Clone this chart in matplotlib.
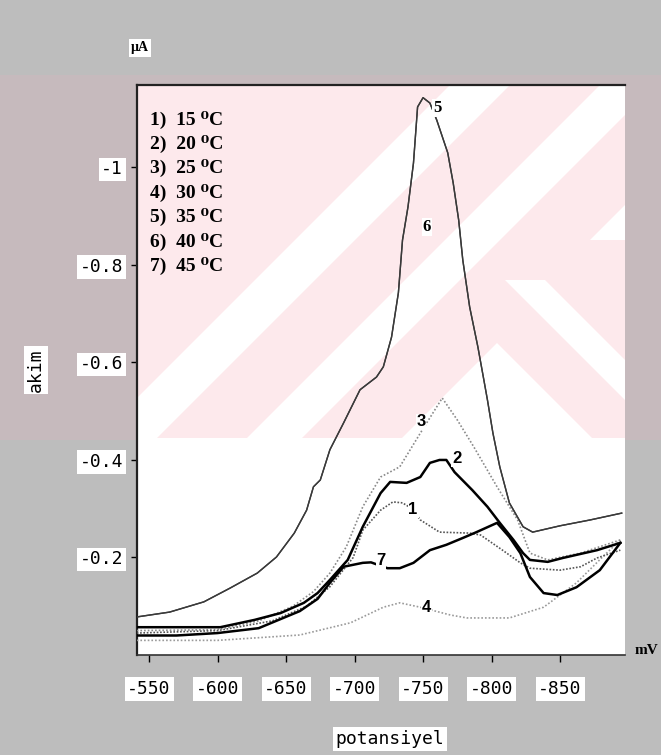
import matplotlib
matplotlib.use("Agg")
import matplotlib.pyplot as plt
from matplotlib.patches import Polygon, Rectangle

plt.rcParams["axes.unicode_minus"] = False

# ---------------- data (potential in mV, current in uA) ----------------
pot_1 = [-541, -600, -640, -665, -682, -699, -706, -719, -728, -735, -742, -748,
         -762, -784, -792, -808, -821, -828, -850, -865, -877, -894]
cur_1 = [-0.045, -0.050, -0.070, -0.100, -0.140, -0.200, -0.256, -0.297, -0.314, -0.312,
         -0.300, -0.277, -0.252, -0.250, -0.246, -0.215, -0.189, -0.178, -0.174, -0.181,
         -0.199, -0.215]

pot_2 = [-541, -602, -627, -646, -663, -673, -682, -695, -706, -719, -726, -738, -748,
         -755, -762, -767, -773, -786, -797, -806, -816, -823, -828, -841, -852, -877, -894]
cur_2 = [-0.057, -0.057, -0.072, -0.086, -0.107, -0.127, -0.154, -0.195, -0.263, -0.332,
         -0.355, -0.353, -0.365, -0.394, -0.400, -0.400, -0.375, -0.338, -0.304, -0.271,
         -0.236, -0.209, -0.195, -0.191, -0.199, -0.215, -0.230]

pot_3 = [-541, -600, -630, -655, -670, -682, -694, -706, -719, -733, -748, -764, -775,
         -787, -804, -819, -828, -841, -865, -894]
cur_3 = [-0.050, -0.052, -0.070, -0.100, -0.130, -0.168, -0.222, -0.304, -0.365, -0.386,
         -0.455, -0.527, -0.482, -0.427, -0.345, -0.277, -0.209, -0.195, -0.209, -0.236]

pot_4 = [-541, -600, -660, -697, -721, -733, -748, -770, -782, -813, -838, -862, -881, -894]
cur_4 = [-0.030, -0.030, -0.041, -0.066, -0.098, -0.107, -0.098, -0.082, -0.076, -0.076,
         -0.098, -0.148, -0.201, -0.236]

# curves 5 and 6 coincide on the original chart (both labels sit on the big peak)
pot_56 = [-541, -565, -590, -609, -629, -643, -656, -665, -670, -675, -682, -692, -704,
          -716, -721, -727, -732, -735, -739, -743, -746, -750, -755, -760, -768, -772,
          -776, -779, -784, -790, -794, -797, -801, -806, -813, -823, -830, -850, -872, -895]
cur_56 = [-0.078, -0.088, -0.109, -0.137, -0.168, -0.201, -0.250, -0.297, -0.345, -0.359,
          -0.421, -0.476, -0.544, -0.570, -0.591, -0.652, -0.743, -0.851, -0.919, -1.009,
          -1.124, -1.143, -1.132, -1.097, -1.030, -0.968, -0.892, -0.810, -0.714, -0.632,
          -0.570, -0.523, -0.455, -0.386, -0.312, -0.263, -0.252, -0.265, -0.277, -0.291]

pot_7 = [-541, -570, -600, -630, -660, -673, -682, -692, -706, -712, -724, -733, -743,
         -755, -767, -779, -789, -804, -813, -821, -828, -838, -848, -862, -879, -894]
cur_7 = [-0.040, -0.040, -0.045, -0.055, -0.090, -0.115, -0.148, -0.181, -0.189, -0.190,
         -0.178, -0.178, -0.189, -0.215, -0.226, -0.240, -0.252, -0.271, -0.242, -0.209,
         -0.160, -0.127, -0.123, -0.139, -0.174, -0.230]

legend_lines = ["1)  15 \u2070C", "2)  20 \u2070C", "3)  25 \u2070C", "4)  30 \u2070C",
                "5)  35 \u2070C", "6)  40 \u2070C", "7)  45 \u2070C"]
curve_tags = ["1", "2", "3", "4", "5", "6", "7"]
tag_pot = [-742.7, -774.5, -748.5, -752.2, -760.5, -752.9, -719.3]
tag_cur = [-0.299, -0.402, -0.478, -0.098, -1.122, -0.878, -0.193]

x_ticks = [-550, -600, -650, -700, -750, -800, -850]
y_ticks = [-1.0, -0.8, -0.6, -0.4, -0.2]
y_tick_labels = ["-1", "-0.8", "-0.6", "-0.4", "-0.2"]

# ---------------- figure ----------------
W, H = 661, 755
fig = plt.figure(figsize=(W / 100, H / 100), dpi=100)
fig.patch.set_facecolor("#bdbdbd")


def fp(x, y):
    return (x / W, 1 - y / H)


# pink watermark tint over the grey margin
fig.patches.append(Rectangle(fp(0, 440), 1, (440 - 75) / H, transform=fig.transFigure,
                             facecolor="#c6babd", edgecolor="none", zorder=0))

ax = fig.add_axes([137 / W, 1 - 655 / H, 488 / W, 570 / H])
ax.set_zorder(2)
ax.set_facecolor("white")

# watermark inside plot area
pink = "#fde9ec"
ax.add_patch(Polygon([fp(0, 85), fp(W, 85), fp(W, 438), fp(0, 438)], closed=True,
                     transform=fig.transFigure, facecolor=pink, edgecolor="none", zorder=0))


def slash_band(c1, c2, ytop, ybot):
    return [fp(c1 - ybot, ybot), fp(c2 - ybot, ybot), fp(c2 - ytop, ytop), fp(c1 - ytop, ytop)]


def back_band(d1, d2, ytop, ybot):
    return [fp(ybot - d1, ybot), fp(ybot - d2, ybot), fp(ytop - d2, ytop), fp(ytop - d1, ytop)]


bands = [slash_band(535, 595, 85, 438), slash_band(685, 740, 85, 438),
         [fp(497, 343), fp(592, 438), fp(402, 438)],
         back_band(-265, -225, 280, 438), slash_band(830, 875, 85, 240)]
for b in bands:
    ax.add_patch(Polygon(b, closed=True, transform=fig.transFigure, facecolor="white",
                         edgecolor="none", zorder=0.5))

# ---------------- curves ----------------
ax.plot(pot_4, cur_4, color="#9a9a9a", lw=1.2, ls=(0, (1, 1.2)), zorder=3)
ax.plot(pot_3, cur_3, color="#8a8a8a", lw=1.2, ls=(0, (1, 1.2)), zorder=3)
ax.plot(pot_1, cur_1, color="#555555", lw=1.2, ls=(0, (1, 1)), zorder=3)
ax.plot(pot_56, cur_56, color="#3a3a3a", lw=1.0, zorder=3)
ax.plot(pot_56, cur_56, color="#3a3a3a", lw=1.0, zorder=3)
ax.plot(pot_2, cur_2, color="black", lw=1.8, zorder=4)
ax.plot(pot_7, cur_7, color="black", lw=1.8, zorder=4)

for i, t in enumerate(curve_tags):
    fam = "Liberation Serif" if t in ("5", "6") else "Liberation Sans"
    ax.text(tag_pot[i], tag_cur[i], t, ha="center", va="center", fontsize=12,
            fontweight="bold", family=fam, zorder=5,
            bbox=dict(facecolor="white", edgecolor="none", pad=0.6))

# legend block
legend_y = [120, 144, 168, 193, 217, 242, 266]
for txt, yy in zip(legend_lines, legend_y):
    ax.text(150 / W, 1 - yy / H, txt, ha="left", va="center", fontsize=14,
            fontweight="bold", family=["Liberation Serif", "DejaVu Serif"], zorder=6,
            transform=fig.transFigure)

# ---------------- axes ----------------
ax.set_xlim(-541.2, -897.4)
ax.set_ylim(0.0, -1.169)
ax.set_xticks(x_ticks)
ax.set_yticks(y_ticks)
ax.set_yticklabels(y_tick_labels)
ax.tick_params(axis="x", direction="out", length=5, width=1, pad=13, labelsize=13)
ax.tick_params(axis="y", direction="out", length=4, width=1, pad=6, labelsize=13)
for lab in ax.get_xticklabels() + ax.get_yticklabels():
    lab.set_family("DejaVu Sans Mono")
    lab.set_bbox(dict(facecolor="white", edgecolor="none", pad=2))

ax.spines["right"].set_visible(False)
ax.spines["left"].set_linewidth(1.6)
ax.spines["top"].set_linewidth(1.6)
ax.spines["left"].set_color("#222222")
ax.spines["top"].set_color("#222222")
ax.spines["bottom"].set_linestyle((0, (1, 1)))
ax.spines["bottom"].set_color("#333333")
ax.spines["bottom"].set_linewidth(1.2)

fig.text(140 / W, 1 - 48 / H, "\u00b5A", ha="center", va="center", fontsize=10,
         fontweight="bold", family="Liberation Serif",
         bbox=dict(facecolor="white", edgecolor="none", pad=1.5))
fig.text(36 / W, 1 - 370 / H, "akim", ha="center", va="center", rotation=90,
         fontsize=13, family="DejaVu Sans Mono",
         bbox=dict(facecolor="white", edgecolor="none", pad=2))
fig.text(646 / W, 1 - 651 / H, "mV", ha="center", va="center", fontsize=11,
         fontweight="bold", family="Liberation Serif")
fig.text(390 / W, 1 - 739 / H, "potansiyel", ha="center", va="center", fontsize=13,
         family="DejaVu Sans Mono",
         bbox=dict(facecolor="white", edgecolor="none", pad=2))

fig.savefig("out.png", dpi=100, facecolor=fig.get_facecolor())
